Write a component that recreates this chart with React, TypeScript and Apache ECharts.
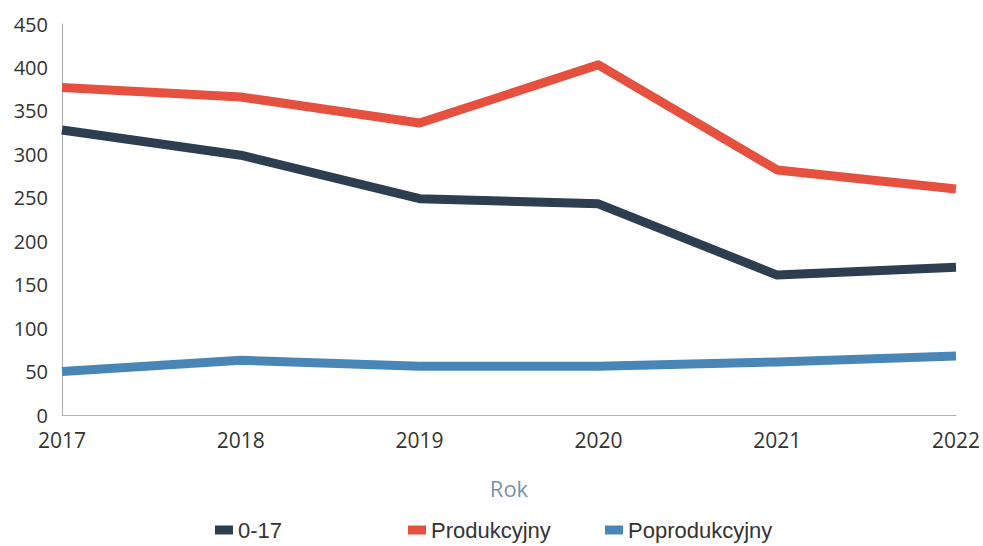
import React, { useEffect, useRef } from "react";
import * as echarts from "echarts";

const years = ["2017", "2018", "2019", "2020", "2021", "2022"];
const kids = [328, 299, 249, 243, 161, 170];
const production = [377, 366, 336, 403, 282, 260];
const postProduction = [50, 63, 56, 56, 61, 68];

const FONT = "Open Sans";
const LEGEND_FONT = "Liberation Sans";

export default function App() {
  const ref = useRef<HTMLDivElement>(null);
  useEffect(() => {
    const chart = echarts.init(ref.current!, null, { renderer: "svg" });
    const legendBase = {
      top: 515,
      padding: [4, 5, 2, 5],
      itemWidth: 18,
      itemHeight: 9,
      itemGap: 8,
      textStyle: { fontFamily: LEGEND_FONT, fontSize: 22, color: "#333" },
      icon: "rect",
    };
    chart.setOption({
      animation: false,
      backgroundColor: "#fff",
      grid: { left: 62, right: 23, top: 24, bottom: 131 },
      legend: [
        { ...legendBase, left: 210, data: ["0-17"] },
        { ...legendBase, left: 403, data: ["Produkcyjny"] },
        { ...legendBase, left: 600, data: ["Poprodukcyjny"] },
      ],
      xAxis: {
        type: "category",
        data: years,
        boundaryGap: false,
        name: "Rok",
        nameLocation: "middle",
        nameGap: 62,
        nameTextStyle: { fontFamily: FONT, fontSize: 22, color: "#7b93a8" },
        axisLine: { lineStyle: { color: "#9fb4c6", width: 1 } },
        axisTick: { show: false },
        axisLabel: { fontFamily: FONT, fontSize: 21, color: "#333", margin: 14 },
      },
      yAxis: {
        type: "value",
        min: 0,
        max: 450,
        interval: 50,
        axisLine: { show: true, lineStyle: { color: "#aaa", width: 1 } },
        axisTick: { show: false },
        splitLine: { show: false },
        axisLabel: { fontFamily: FONT, fontSize: 20, color: "#333", margin: 14 },
      },
      series: [
        { name: "0-17", type: "line", data: kids, color: "#2c3e50" },
        { name: "Produkcyjny", type: "line", data: production, color: "#e5503f" },
        { name: "Poprodukcyjny", type: "line", data: postProduction, color: "#4a86b5" },
      ].map((s) => ({
        ...s,
        showSymbol: false,
        symbol: "none",
        lineStyle: { width: 9, join: "round", cap: "butt" },
      })),
    });
    return () => chart.dispose();
  }, []);
  return <div ref={ref} style={{ width: 983, height: 546, position: "absolute", left: 0, top: 0 }} />;
}
